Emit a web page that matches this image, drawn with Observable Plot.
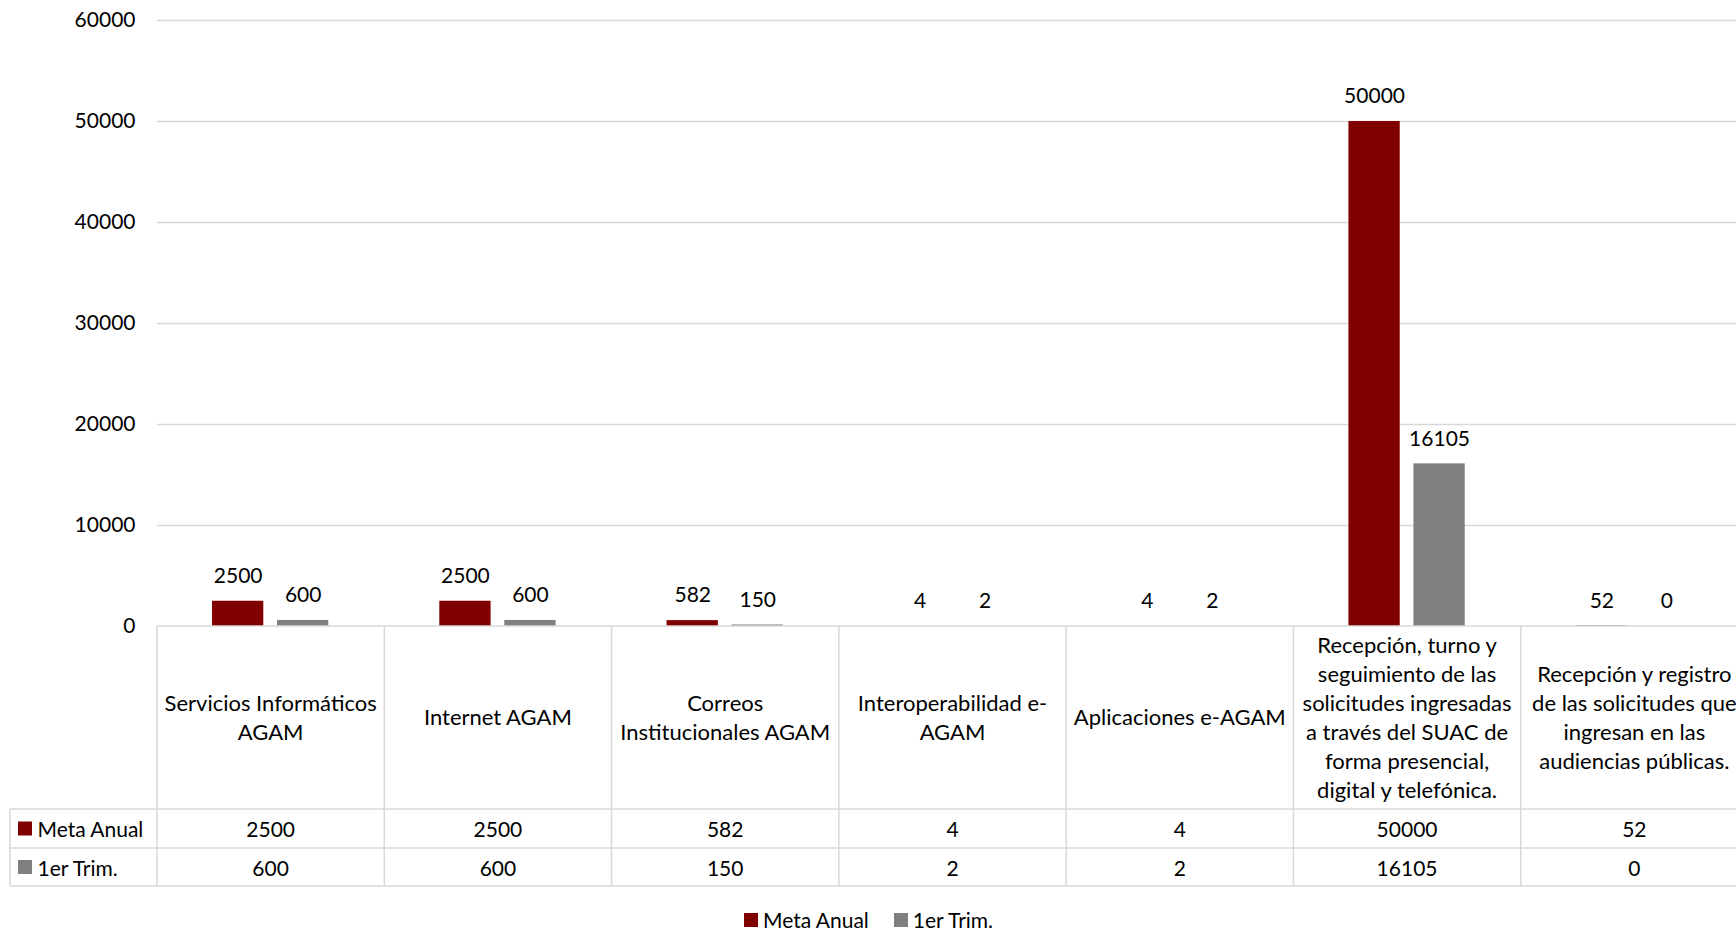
<!DOCTYPE html>
<html><head><meta charset="utf-8">
<script src="https://cdn.jsdelivr.net/npm/d3@7"></script>
<script src="https://cdn.jsdelivr.net/npm/@observablehq/plot@0.6"></script>
<style>
html,body{margin:0;padding:0;background:#fff;overflow:hidden;width:1736px;height:929px;}
#chart{position:relative;width:1748px;height:929px;font-family:Lato,sans-serif;}
#chart svg{max-width:none !important;position:absolute;left:0;top:0;}
.legend{position:absolute;top:908px;left:744px;display:flex;align-items:center;font-size:21px;color:#000;white-space:nowrap;line-height:24px;font-family:Lato,sans-serif;}
.legend .item{display:flex;align-items:center;margin-right:25px;}
.sw{display:inline-block;width:14px;height:14px;margin-right:5px}
</style></head><body><div id="chart"></div>
<script>
const categories = [
  "Servicios Informáticos AGAM",
  "Internet AGAM",
  "Correos Institucionales AGAM",
  "Interoperabilidad e-AGAM",
  "Aplicaciones e-AGAM",
  "Recepción, turno y seguimiento de las solicitudes ingresadas a través del SUAC de forma presencial, digital y telefónica.",
  "Recepción y registro de las solicitudes que ingresan en las audiencias públicas."
];
const categoryLabels = [
  "Servicios Informáticos\nAGAM",
  "Internet AGAM",
  "Correos\nInstitucionales AGAM",
  "Interoperabilidad e-\nAGAM",
  "Aplicaciones e-AGAM",
  "Recepción, turno y\nseguimiento de las\nsolicitudes ingresadas\na través del SUAC de\nforma presencial,\ndigital y telefónica.",
  "Recepción y registro\nde las solicitudes que\ningresan en las\naudiencias públicas."
];
const metaAnual = [2500, 2500, 582, 4, 4, 50000, 52];
const primerTrim = [600, 600, 150, 2, 2, 16105, 0];
const seriesNames = ["Meta Anual", "1er Trim."];
const seriesColors = ["#800000", "#808080"];
const yTicks = [0, 10000, 20000, 30000, 40000, 50000, 60000];

const rows = categories.map((c, i) => ({category: c, label: categoryLabels[i], meta: metaAnual[i], trim: primerTrim[i]}));
const GRID = "#d9d9d9";

function dataTable(index, scales, values, dimensions) {
  const x = scales.x, y = scales.y;
  const bw = x.bandwidth ? x.bandwidth() : (dimensions.width - dimensions.marginLeft - dimensions.marginRight) / categories.length;
  const top = y(0);
  const r1 = top + 183, r2 = r1 + 39, r3 = r2 + 38;
  const left0 = 10, plotLeft = dimensions.marginLeft, right = dimensions.width;
  const g = d3.create("svg:g").attr("font-family", "Lato, sans-serif").attr("font-size", 21).attr("fill", "#000");
  const lines = g.append("g").attr("stroke", GRID).attr("stroke-width", 1.5);
  lines.append("line").attr("x1", plotLeft).attr("x2", right).attr("y1", top).attr("y2", top);
  for (const yy of [r1, r2, r3]) lines.append("line").attr("x1", left0).attr("x2", right).attr("y1", yy).attr("y2", yy);
  lines.append("line").attr("x1", left0).attr("x2", left0).attr("y1", r1).attr("y2", r3);
  categories.forEach((c, i) => {
    const xl = x(c);
    lines.append("line").attr("x1", xl).attr("x2", xl).attr("y1", top).attr("y2", r3);
    if (i === categories.length - 1) lines.append("line").attr("x1", xl + bw).attr("x2", xl + bw).attr("y1", top).attr("y2", r3);
    const cx = xl + bw / 2;
    const parts = categoryLabels[i].split("\n");
    const lh = 29;
    const cy = (top + r1) / 2 - 1 - (parts.length - 1) * lh / 2;
    const t = g.append("text").attr("text-anchor", "middle").attr("font-size", 22);
    parts.forEach((p, k) => t.append("tspan").attr("x", cx).attr("y", cy + k * lh).attr("dominant-baseline", "central").text(p));
    g.append("text").attr("x", cx).attr("y", (r1 + r2) / 2).attr("text-anchor", "middle").attr("dominant-baseline", "central").text(String(metaAnual[i]));
    g.append("text").attr("x", cx).attr("y", (r2 + r3) / 2).attr("text-anchor", "middle").attr("dominant-baseline", "central").text(String(primerTrim[i]));
  });
  seriesNames.forEach((s, k) => {
    const cy = k === 0 ? (r1 + r2) / 2 : (r2 + r3) / 2;
    g.append("rect").attr("x", 18).attr("y", cy - 7).attr("width", 14).attr("height", 14).attr("fill", seriesColors[k]);
    g.append("text").attr("x", 37.5).attr("y", cy).attr("text-anchor", "start").attr("dominant-baseline", "central").text(s);
  });
  return g.node();
}

const plot = Plot.plot({
  width: 1748,
  height: 905,
  marginLeft: 157,
  marginRight: 0,
  marginTop: 20,
  marginBottom: 279,
  style: {fontFamily: "Lato, sans-serif", fontSize: "21px", color: "#000", background: "transparent", maxWidth: "none", overflow: "visible"},
  x: {domain: categories, padding: 0, round: false, axis: null},
  y: {domain: [0, 60000], axis: null},
  marks: [
    Plot.ruleY(yTicks.filter(d => d > 0), {stroke: GRID, strokeWidth: 1.5}),
    Plot.axisY(yTicks, {tickSize: 0, tickPadding: 22, tickFormat: d => String(d), fontSize: 21}),
    Plot.barY(rows, {x: "category", y: "meta", fill: seriesColors[0], insetLeft: 55, insetRight: 121}),
    Plot.barY(rows, {x: "category", y: "trim", fill: seriesColors[1], insetLeft: 120, insetRight: 56}),
    Plot.text(rows, {x: "category", y: "meta", text: d => String(d.meta), dx: -33, dy: -25, fill: "#000"}),
    Plot.text(rows, {x: "category", y: "trim", text: d => String(d.trim), dx: 32, dy: -25, fill: "#000"}),
    dataTable
  ]
});
const chart = document.getElementById("chart");
chart.appendChild(plot);

const legend = document.createElement("div");
legend.className = "legend";
seriesNames.forEach((s, k) => {
  const item = document.createElement("span");
  item.className = "item";
  const sw = document.createElement("span");
  sw.className = "sw";
  sw.style.background = seriesColors[k];
  item.appendChild(sw);
  item.appendChild(document.createTextNode(s));
  legend.appendChild(item);
});
chart.appendChild(legend);
</script>
</body></html>
